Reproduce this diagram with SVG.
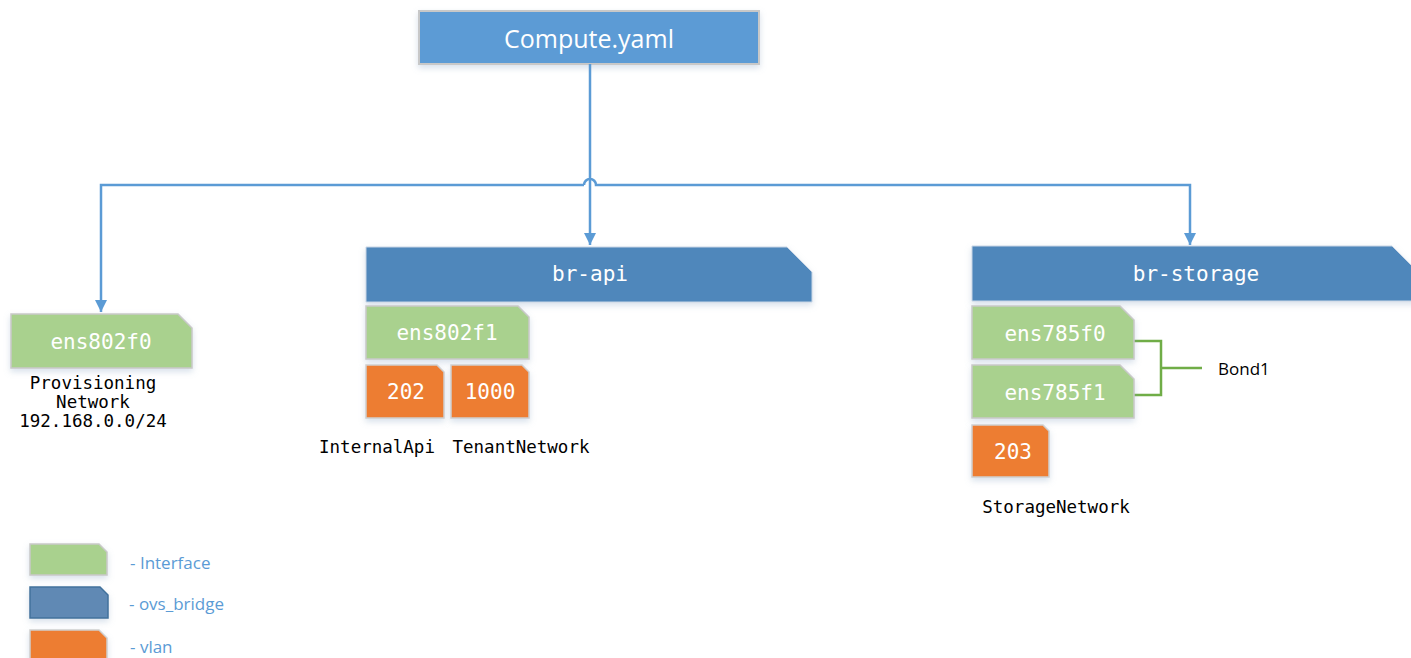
<svg xmlns="http://www.w3.org/2000/svg" width="1411" height="658" viewBox="0 0 1411 658">
  <style>
    .iface { fill: #a9d18e; stroke: #c9c9c9; stroke-width: 1.5; }
    .bridge { fill: #4f87bb; stroke: #c9d6e6; stroke-width: 1; }
    .vlan { fill: #ed7d31; stroke: #d0d0d0; stroke-width: 1.5; }
    .root { fill: #5b9bd5; stroke: #c8c8c8; stroke-width: 2; }
    .nlabel { font-family: "DejaVu Sans Mono", "Liberation Mono", monospace; font-size: 21px; fill: #ffffff; text-anchor: middle; dominant-baseline: central; }
    .caption { font-family: "DejaVu Sans Mono", "Liberation Mono", monospace; font-size: 17.5px; fill: #000000; text-anchor: middle; }
    .legend { font-family: "Open Sans", "Liberation Sans", sans-serif; font-size: 17px; fill: #5b9bd5; }
    .wire { fill: none; stroke: #5b9bd5; stroke-width: 2.5; }
    .bond { fill: none; stroke: #70ad47; stroke-width: 2.5; }
  </style>
  <defs>
    <marker id="arrow" viewBox="0 0 10 10" refX="10" refY="5" markerWidth="5" markerHeight="5" orient="auto" markerUnits="strokeWidth">
      <path d="M0,0 L10,5 L0,10 z" fill="#5b9bd5"/>
    </marker>
    <filter id="shadow" x="-10%" y="-20%" width="120%" height="150%">
      <feDropShadow dx="0" dy="3" stdDeviation="3" flood-color="#8fa9c6" flood-opacity="0.35"/>
    </filter>
  </defs>

  <!-- root configuration file -->
  <g id="compute">
    <rect class="root" x="419" y="11" width="340" height="53" filter="url(#shadow)"/>
    <text x="589" y="38" font-family="Open Sans, Liberation Sans, sans-serif" font-size="25" fill="#ffffff" text-anchor="middle" dominant-baseline="central">Compute.yaml</text>
  </g>

  <!-- connectors -->
  <g id="connectors">
    <path class="wire" d="M590,64 L590,245" marker-end="url(#arrow)"/>
    <path class="wire" d="M584,185 L101,185 L101,312" marker-end="url(#arrow)"/>
    <path class="wire" d="M584,185 A6,6 0 0 1 596,185 L1190,185 L1190,245" marker-end="url(#arrow)"/>
    <path class="bond" d="M1134,341 L1161,341 L1161,395 L1134,395 M1161,368 L1202,368"/>
  </g>

  <!-- provisioning interface -->
  <g id="ens802f0">
    <path class="iface" d="M11,314 L178,314 L192,328 L192,368 L11,368 z" filter="url(#shadow)"/>
    <text class="nlabel" x="101" y="342">ens802f0</text>
    <text class="caption" x="93" y="389">Provisioning</text>
    <text class="caption" x="93" y="408">Network</text>
    <text class="caption" x="93" y="427">192.168.0.0/24</text>
  </g>

  <!-- api bridge -->
  <g id="br-api">
    <path class="bridge" d="M366,247 L787,247 L812,272 L812,302 L366,302 z" filter="url(#shadow)"/>
    <text class="nlabel" x="590" y="274">br-api</text>
  </g>
  <g id="ens802f1">
    <path class="iface" d="M366,306 L518,306 L529,317 L529,359 L366,359 z" filter="url(#shadow)"/>
    <text class="nlabel" x="447" y="333">ens802f1</text>
  </g>
  <g id="vlan202">
    <path class="vlan" d="M366,365 L437,365 L444,372 L444,418 L366,418 z" filter="url(#shadow)"/>
    <text class="nlabel" x="406" y="392">202</text>
    <text class="caption" x="377" y="453">InternalApi</text>
  </g>
  <g id="vlan1000">
    <path class="vlan" d="M451,365 L522,365 L529,372 L529,418 L451,418 z" filter="url(#shadow)"/>
    <text class="nlabel" x="490" y="392">1000</text>
    <text class="caption" x="521" y="453">TenantNetwork</text>
  </g>

  <!-- storage bridge -->
  <g id="br-storage">
    <path class="bridge" d="M972,246 L1392,246 L1416,270 L1416,301 L972,301 z" filter="url(#shadow)"/>
    <text class="nlabel" x="1196" y="274">br-storage</text>
  </g>
  <g id="ens785f0">
    <path class="iface" d="M972,306 L1120,306 L1134,320 L1134,359 L972,359 z" filter="url(#shadow)"/>
    <text class="nlabel" x="1055" y="334">ens785f0</text>
  </g>
  <g id="ens785f1">
    <path class="iface" d="M972,365 L1120,365 L1134,379 L1134,418 L972,418 z" filter="url(#shadow)"/>
    <text class="nlabel" x="1055" y="393">ens785f1</text>
  </g>
  <g id="bond1">
    <text x="1218" y="375" font-family="Open Sans, Liberation Sans, sans-serif" font-size="17" fill="#000000">Bond1</text>
  </g>
  <g id="vlan203">
    <path class="vlan" d="M972,425 L1043,425 L1049,431 L1049,477 L972,477 z" filter="url(#shadow)"/>
    <text class="nlabel" x="1013" y="452">203</text>
    <text class="caption" x="1056" y="513">StorageNetwork</text>
  </g>

  <!-- legend -->
  <g id="legend">
    <path class="iface" d="M30,544 L99,544 L107,552 L107,575 L30,575 z" filter="url(#shadow)"/>
    <text class="legend" x="130" y="569">- Interface</text>
    <path d="M30,587 L100,587 L108,595 L108,618 L30,618 z" fill="#6089b4" stroke="#41719c" stroke-width="1.5" filter="url(#shadow)"/>
    <text class="legend" x="129" y="610">- ovs_bridge</text>
    <path class="vlan" d="M30,630 L99,630 L107,638 L107,662 L30,662 z" filter="url(#shadow)"/>
    <text class="legend" x="130" y="653">- vlan</text>
  </g>
</svg>
